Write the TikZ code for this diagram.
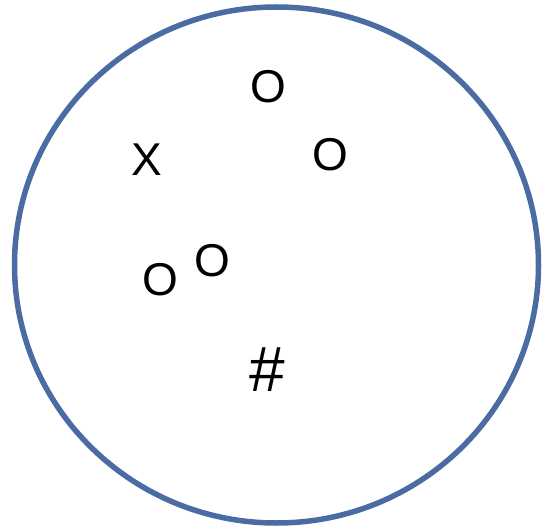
\documentclass[tikz,border=0pt]{standalone}
\usepackage{fontspec}
\setmainfont{Liberation Sans}
\definecolor{rimblue}{RGB}{74,108,163}

\begin{document}
\begin{tikzpicture}[
  x=1pt, y=-1pt,
  glyph/.style={inner sep=0pt, font=\fontsize{46}{46}\selectfont},
]
  \useasboundingbox (0,0) rectangle (544,532);
  \draw[rimblue, line width=5.5pt] (276.5,265) ellipse [x radius=262, y radius=258];

  \node[glyph] (otop) at (268,87) {O};
  \node[glyph] (cross) at (147,160) {X};
  \node[glyph] (oright) at (330,155) {O};
  \node[glyph] (olow) at (160,280) {O};
  \node[glyph] (omid) at (212,261) {O};
  \node[glyph, font=\fontsize{64}{64}\selectfont] (hash) at (267,370) {\#};
\end{tikzpicture}
\end{document}
